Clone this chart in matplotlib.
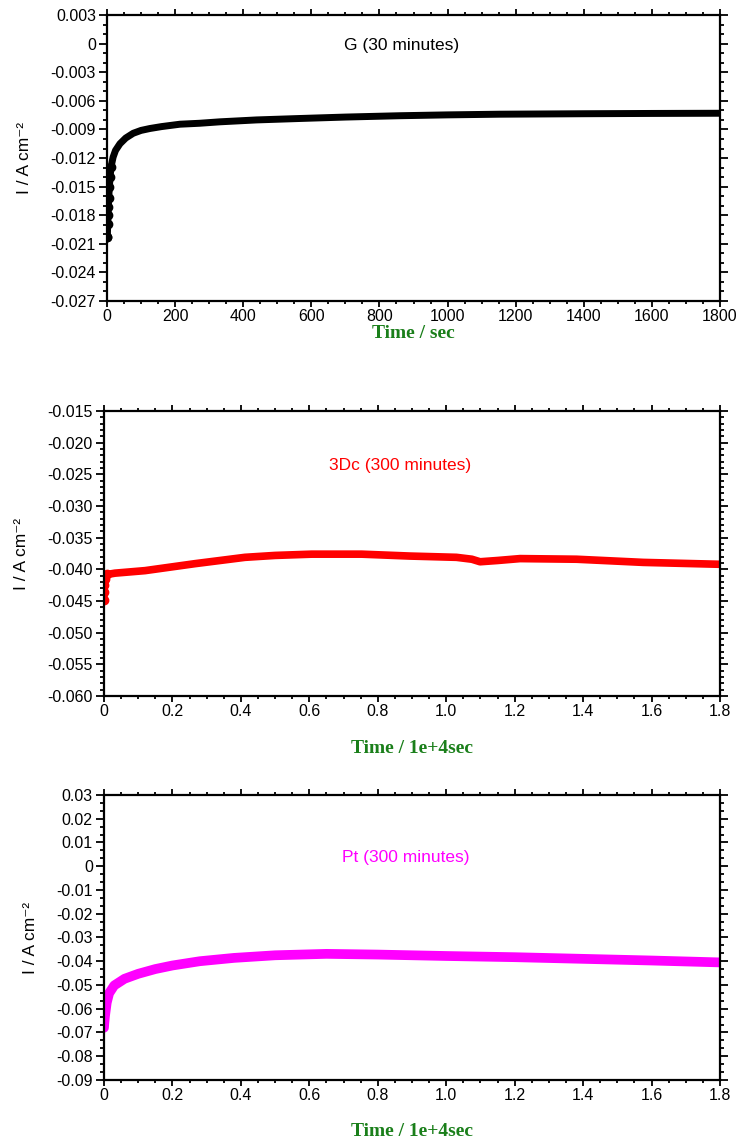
import matplotlib
matplotlib.use('Agg')
import matplotlib.pyplot as plt
from matplotlib.ticker import MultipleLocator, FuncFormatter

plt.rcParams['font.family'] = ['Liberation Sans', 'DejaVu Sans']
plt.rcParams['axes.unicode_minus'] = False

# G electrode, 30 minutes (time in sec, current in A cm-2)
g_time = [0, 1, 2, 3, 4, 5, 7, 9, 12, 18, 25, 38, 55, 77, 100, 126, 160, 214,
          272, 331, 439, 566, 700, 859, 1000, 1152, 1400, 1600, 1800]
g_curr = [-0.0203, -0.0203, -0.0189, -0.0180, -0.0171, -0.0162, -0.0150, -0.0140,
          -0.0129, -0.0119, -0.0112, -0.0105, -0.0099, -0.0094, -0.0091, -0.0089,
          -0.0087, -0.00845, -0.00835, -0.0082, -0.0080, -0.00785, -0.0077,
          -0.00756, -0.00747, -0.0074, -0.00735, -0.00732, -0.0073]

# 3Dc electrode, 300 minutes (time in 1e4 sec)
dc_time = [0, 0, 0.001, 0.002, 0.004, 0.01, 0.032, 0.12, 0.266, 0.412, 0.5, 0.607,
           0.753, 0.894, 1.03, 1.075, 1.099, 1.15, 1.216, 1.381, 1.576, 1.8]
dc_curr = [-0.0448, -0.0435, -0.0425, -0.0415, -0.0410, -0.0408, -0.0406, -0.0402,
           -0.0391, -0.0381, -0.0378, -0.0376, -0.0376, -0.0379, -0.0381, -0.0384,
           -0.0388, -0.0386, -0.0383, -0.0384, -0.0389, -0.0392]

# Pt electrode, 300 minutes (time in 1e4 sec)
pt_time = [0, 0.001, 0.003, 0.008, 0.015, 0.03, 0.06, 0.1, 0.15, 0.2, 0.28, 0.38,
           0.5, 0.65, 0.8, 1.0, 1.2, 1.4, 1.6, 1.8]
pt_curr = [-0.068, -0.066, -0.063, -0.0575, -0.0535, -0.0502, -0.0474, -0.0453,
           -0.0433, -0.0418, -0.0400, -0.0386, -0.0375, -0.0369, -0.0372, -0.0378,
           -0.0383, -0.0390, -0.0397, -0.0405]

labels = ['G (30 minutes)', '3Dc (300 minutes)', 'Pt (300 minutes)']
xlabels = ['Time / sec', 'Time / 1e+4sec', 'Time / 1e+4sec']


def fmt(decimals):
    def f(v, pos):
        if abs(v) < 1e-12:
            return '0'
        return f'{v:.{decimals}f}'
    return FuncFormatter(f)


fig = plt.figure(figsize=(7.4, 11.42), dpi=100)
ax1 = fig.add_axes([0.1446, 0.7364, 0.8284, 0.2504])
ax2 = fig.add_axes([0.1405, 0.3905, 0.8324, 0.2496])
ax3 = fig.add_axes([0.1405, 0.0543, 0.8324, 0.2496])

ax1.plot(g_time, g_curr, '-o', color='black', lw=5, ms=6,
         markevery=list(range(9)), solid_capstyle='round')
ax2.plot(dc_time, dc_curr, '-o', color='#ff0000', lw=5.5, ms=6,
         markevery=list(range(6)), solid_capstyle='round')
ax3.plot(pt_time, pt_curr, '-', color='#ff00ff', lw=7,
         solid_capstyle='round', solid_joinstyle='round')

ax1.set_xlim(0, 1800)
ax1.set_ylim(-0.027, 0.003)
ax1.xaxis.set_major_locator(MultipleLocator(200))
ax1.xaxis.set_minor_locator(MultipleLocator(50))
ax1.yaxis.set_major_locator(MultipleLocator(0.003))
ax1.yaxis.set_minor_locator(MultipleLocator(0.001))
ax1.xaxis.set_major_formatter(fmt(0))
ax1.yaxis.set_major_formatter(fmt(3))

ax2.set_xlim(0, 1.8)
ax2.set_ylim(-0.060, -0.015)
ax2.xaxis.set_major_locator(MultipleLocator(0.2))
ax2.xaxis.set_minor_locator(MultipleLocator(0.05))
ax2.yaxis.set_major_locator(MultipleLocator(0.005))
ax2.yaxis.set_minor_locator(MultipleLocator(0.001))
ax2.xaxis.set_major_formatter(fmt(1))
ax2.yaxis.set_major_formatter(fmt(3))

ax3.set_xlim(0, 1.8)
ax3.set_ylim(-0.09, 0.03)
ax3.xaxis.set_major_locator(MultipleLocator(0.2))
ax3.xaxis.set_minor_locator(MultipleLocator(0.05))
ax3.yaxis.set_major_locator(MultipleLocator(0.01))
ax3.yaxis.set_minor_locator(MultipleLocator(0.01 / 3))
ax3.xaxis.set_major_formatter(fmt(1))
ax3.yaxis.set_major_formatter(fmt(2))

colors = ['black', '#ff0000', '#ff00ff']
text_y = [0.895, 0.81, 0.782]
text_x = [0.48, 0.48, 0.49]
pads = [1, 15, 15]
for ax, lab, xl, c, tx, ty, pad in zip([ax1, ax2, ax3], labels, xlabels, colors,
                                       text_x, text_y, pads):
    for s in ax.spines.values():
        s.set_linewidth(1.6)
    ax.tick_params(which='both', direction='out', top=True, right=True,
                   labelsize=11.5, width=1.3)
    ax.tick_params(axis='x', which='major', length=4.5, pad=1)
    ax.tick_params(axis='x', which='minor', length=2.5)
    ax.tick_params(axis='y', which='major', length=6, pad=2)
    ax.tick_params(axis='y', which='minor', length=3)
    ax.set_ylabel('I / A cm⁻²', fontsize=12.5, labelpad=13)
    ax.set_xlabel(xl, fontsize=14, fontweight='bold', family='Liberation Serif',
                  color='#1a7f1a', labelpad=pad)
    ax.text(tx, ty, lab, transform=ax.transAxes, color=c, fontsize=12.5,
            ha='center', va='center')

fig.savefig('out.png', dpi=100)
